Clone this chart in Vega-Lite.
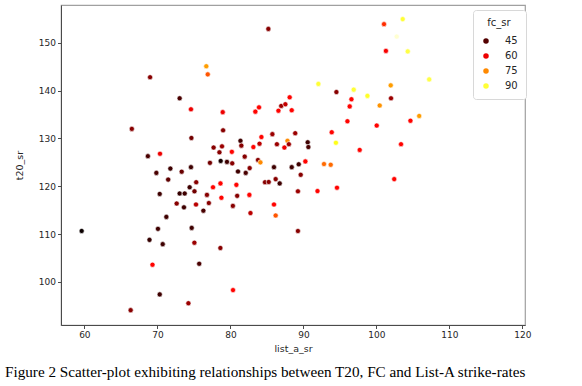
{
  "$schema": "https://vega.github.io/schema/vega-lite/v6.json",
  "width": 464,
  "height": 320,
  "autosize": "none",
  "padding": {"left": 61, "top": 5, "right": 57, "bottom": 61},
  "title": {
    "text": "Figure 2 Scatter-plot exhibiting relationships between T20, FC and List-A strike-rates",
    "orient": "bottom",
    "anchor": "start",
    "frame": "group",
    "font": "Liberation Serif",
    "fontSize": 15.2,
    "fontWeight": "normal",
    "color": "#000000",
    "dx": -56,
    "offset": 12
  },
  "config": {
    "view": {"stroke": "#a0a0a0", "strokeWidth": 1.2},
    "font": "DejaVu Sans",
    "axis": {
      "grid": false,
      "domainColor": "#4a4a4a",
      "tickColor": "#4a4a4a",
      "tickSize": 3.5,
      "labelFont": "DejaVu Sans",
      "labelFontSize": 9,
      "labelColor": "#262626",
      "titleFont": "DejaVu Sans",
      "titleFontSize": 9.5,
      "titleFontWeight": "normal",
      "titleColor": "#262626",
      "labelPadding": 2
    }
  },
  "data": {
    "values": [
      {"list_a_sr": 76.7, "t20_sr": 145.1, "fc_sr": 77},
      {"list_a_sr": 76.9, "t20_sr": 143.4, "fc_sr": 70},
      {"list_a_sr": 69.0, "t20_sr": 142.8, "fc_sr": 50},
      {"list_a_sr": 73.05, "t20_sr": 138.4, "fc_sr": 44},
      {"list_a_sr": 74.6, "t20_sr": 136.1, "fc_sr": 60},
      {"list_a_sr": 78.95, "t20_sr": 135.5, "fc_sr": 60},
      {"list_a_sr": 66.5, "t20_sr": 132.0, "fc_sr": 50},
      {"list_a_sr": 79.0, "t20_sr": 131.7, "fc_sr": 50},
      {"list_a_sr": 74.66, "t20_sr": 130.1, "fc_sr": 48},
      {"list_a_sr": 77.7, "t20_sr": 128.1, "fc_sr": 50},
      {"list_a_sr": 78.85, "t20_sr": 128.35, "fc_sr": 52},
      {"list_a_sr": 78.5, "t20_sr": 127.1, "fc_sr": 50},
      {"list_a_sr": 68.7, "t20_sr": 126.3, "fc_sr": 44},
      {"list_a_sr": 70.36, "t20_sr": 126.8, "fc_sr": 60},
      {"list_a_sr": 77.2, "t20_sr": 124.9, "fc_sr": 48},
      {"list_a_sr": 78.67, "t20_sr": 125.3, "fc_sr": 39},
      {"list_a_sr": 79.53, "t20_sr": 125.1, "fc_sr": 43},
      {"list_a_sr": 69.86, "t20_sr": 122.8, "fc_sr": 44},
      {"list_a_sr": 71.78, "t20_sr": 123.7, "fc_sr": 43},
      {"list_a_sr": 73.33, "t20_sr": 123.05, "fc_sr": 47},
      {"list_a_sr": 74.6, "t20_sr": 124.0, "fc_sr": 43},
      {"list_a_sr": 71.48, "t20_sr": 121.4, "fc_sr": 46},
      {"list_a_sr": 85.2, "t20_sr": 152.9, "fc_sr": 50},
      {"list_a_sr": 101.04, "t20_sr": 153.9, "fc_sr": 66},
      {"list_a_sr": 102.78, "t20_sr": 151.3, "fc_sr": 100},
      {"list_a_sr": 101.3, "t20_sr": 148.3, "fc_sr": 61},
      {"list_a_sr": 92.05, "t20_sr": 141.4, "fc_sr": 90},
      {"list_a_sr": 94.52, "t20_sr": 139.7, "fc_sr": 50},
      {"list_a_sr": 96.89, "t20_sr": 140.2, "fc_sr": 90},
      {"list_a_sr": 98.77, "t20_sr": 138.9, "fc_sr": 89},
      {"list_a_sr": 101.96, "t20_sr": 141.1, "fc_sr": 77},
      {"list_a_sr": 102.0, "t20_sr": 138.4, "fc_sr": 52},
      {"list_a_sr": 96.58, "t20_sr": 138.2, "fc_sr": 62},
      {"list_a_sr": 96.34, "t20_sr": 136.7, "fc_sr": 62},
      {"list_a_sr": 100.45, "t20_sr": 136.9, "fc_sr": 76},
      {"list_a_sr": 96.03, "t20_sr": 133.6, "fc_sr": 62},
      {"list_a_sr": 100.04, "t20_sr": 132.7, "fc_sr": 62},
      {"list_a_sr": 93.88, "t20_sr": 131.3, "fc_sr": 62},
      {"list_a_sr": 94.45, "t20_sr": 129.1, "fc_sr": 88},
      {"list_a_sr": 97.71, "t20_sr": 127.6, "fc_sr": 62},
      {"list_a_sr": 88.12, "t20_sr": 138.6, "fc_sr": 62},
      {"list_a_sr": 86.96, "t20_sr": 136.8, "fc_sr": 52},
      {"list_a_sr": 87.53, "t20_sr": 137.15, "fc_sr": 56},
      {"list_a_sr": 88.4, "t20_sr": 135.9, "fc_sr": 62},
      {"list_a_sr": 86.58, "t20_sr": 135.8, "fc_sr": 62},
      {"list_a_sr": 83.92, "t20_sr": 136.5, "fc_sr": 62},
      {"list_a_sr": 83.42, "t20_sr": 135.6, "fc_sr": 62},
      {"list_a_sr": 88.88, "t20_sr": 131.1, "fc_sr": 52},
      {"list_a_sr": 85.75, "t20_sr": 130.9, "fc_sr": 52},
      {"list_a_sr": 87.82, "t20_sr": 129.5, "fc_sr": 75},
      {"list_a_sr": 90.59, "t20_sr": 129.2, "fc_sr": 43},
      {"list_a_sr": 90.68, "t20_sr": 128.2, "fc_sr": 44},
      {"list_a_sr": 88.01, "t20_sr": 128.8, "fc_sr": 52},
      {"list_a_sr": 87.4, "t20_sr": 128.1, "fc_sr": 60},
      {"list_a_sr": 86.37, "t20_sr": 128.8, "fc_sr": 52},
      {"list_a_sr": 84.25, "t20_sr": 130.3, "fc_sr": 62},
      {"list_a_sr": 83.99, "t20_sr": 128.9, "fc_sr": 55},
      {"list_a_sr": 83.15, "t20_sr": 128.2, "fc_sr": 62},
      {"list_a_sr": 81.38, "t20_sr": 129.5, "fc_sr": 43},
      {"list_a_sr": 81.5, "t20_sr": 128.5, "fc_sr": 50},
      {"list_a_sr": 80.2, "t20_sr": 127.2, "fc_sr": 62},
      {"list_a_sr": 81.96, "t20_sr": 126.2, "fc_sr": 50},
      {"list_a_sr": 83.78, "t20_sr": 125.5, "fc_sr": 50},
      {"list_a_sr": 84.11, "t20_sr": 125.0, "fc_sr": 75},
      {"list_a_sr": 80.25, "t20_sr": 124.8, "fc_sr": 50},
      {"list_a_sr": 81.04, "t20_sr": 123.1, "fc_sr": 43},
      {"list_a_sr": 82.1, "t20_sr": 122.8, "fc_sr": 44},
      {"list_a_sr": 82.64, "t20_sr": 123.8, "fc_sr": 50},
      {"list_a_sr": 85.97, "t20_sr": 124.0, "fc_sr": 43},
      {"list_a_sr": 88.4, "t20_sr": 124.0, "fc_sr": 43},
      {"list_a_sr": 89.36, "t20_sr": 124.6, "fc_sr": 43},
      {"list_a_sr": 89.63, "t20_sr": 122.4, "fc_sr": 50},
      {"list_a_sr": 90.27, "t20_sr": 125.2, "fc_sr": 62},
      {"list_a_sr": 92.82, "t20_sr": 124.65, "fc_sr": 72},
      {"list_a_sr": 93.74, "t20_sr": 124.5, "fc_sr": 72},
      {"list_a_sr": 86.2, "t20_sr": 121.5, "fc_sr": 50},
      {"list_a_sr": 102.44, "t20_sr": 121.5, "fc_sr": 62},
      {"list_a_sr": 103.6, "t20_sr": 154.95, "fc_sr": 90},
      {"list_a_sr": 104.29, "t20_sr": 148.2, "fc_sr": 91},
      {"list_a_sr": 107.23, "t20_sr": 142.35, "fc_sr": 91},
      {"list_a_sr": 105.86, "t20_sr": 134.7, "fc_sr": 77},
      {"list_a_sr": 104.66, "t20_sr": 133.7, "fc_sr": 62},
      {"list_a_sr": 103.37, "t20_sr": 128.8, "fc_sr": 62},
      {"list_a_sr": 94.6, "t20_sr": 119.7, "fc_sr": 62},
      {"list_a_sr": 91.93, "t20_sr": 119.0, "fc_sr": 62},
      {"list_a_sr": 75.32, "t20_sr": 120.85, "fc_sr": 50},
      {"list_a_sr": 77.62, "t20_sr": 119.8, "fc_sr": 62},
      {"list_a_sr": 78.64, "t20_sr": 120.6, "fc_sr": 62},
      {"list_a_sr": 74.42, "t20_sr": 119.8, "fc_sr": 43},
      {"list_a_sr": 70.32, "t20_sr": 118.4, "fc_sr": 43},
      {"list_a_sr": 73.05, "t20_sr": 118.5, "fc_sr": 42},
      {"list_a_sr": 73.74, "t20_sr": 118.5, "fc_sr": 43},
      {"list_a_sr": 75.08, "t20_sr": 118.95, "fc_sr": 48},
      {"list_a_sr": 76.79, "t20_sr": 118.2, "fc_sr": 50},
      {"list_a_sr": 78.77, "t20_sr": 117.6, "fc_sr": 62},
      {"list_a_sr": 72.64, "t20_sr": 116.4, "fc_sr": 50},
      {"list_a_sr": 73.64, "t20_sr": 115.6, "fc_sr": 43},
      {"list_a_sr": 75.29, "t20_sr": 116.2, "fc_sr": 55},
      {"list_a_sr": 77.05, "t20_sr": 116.5, "fc_sr": 50},
      {"list_a_sr": 76.3, "t20_sr": 114.9, "fc_sr": 44},
      {"list_a_sr": 71.23, "t20_sr": 113.6, "fc_sr": 43},
      {"list_a_sr": 59.63, "t20_sr": 110.66, "fc_sr": 38},
      {"list_a_sr": 70.08, "t20_sr": 111.1, "fc_sr": 43},
      {"list_a_sr": 74.7, "t20_sr": 111.3, "fc_sr": 43},
      {"list_a_sr": 68.92, "t20_sr": 108.8, "fc_sr": 42},
      {"list_a_sr": 70.73, "t20_sr": 107.9, "fc_sr": 43},
      {"list_a_sr": 75.07, "t20_sr": 108.2, "fc_sr": 52},
      {"list_a_sr": 78.63, "t20_sr": 107.1, "fc_sr": 50},
      {"list_a_sr": 69.33, "t20_sr": 103.6, "fc_sr": 62},
      {"list_a_sr": 75.73, "t20_sr": 103.8, "fc_sr": 44},
      {"list_a_sr": 70.32, "t20_sr": 97.4, "fc_sr": 43},
      {"list_a_sr": 74.25, "t20_sr": 95.55, "fc_sr": 52},
      {"list_a_sr": 66.34, "t20_sr": 94.1, "fc_sr": 50},
      {"list_a_sr": 80.82, "t20_sr": 120.3, "fc_sr": 62},
      {"list_a_sr": 80.93, "t20_sr": 118.0, "fc_sr": 50},
      {"list_a_sr": 80.34, "t20_sr": 115.9, "fc_sr": 50},
      {"list_a_sr": 82.6, "t20_sr": 118.2, "fc_sr": 62},
      {"list_a_sr": 82.75, "t20_sr": 114.4, "fc_sr": 55},
      {"list_a_sr": 84.74, "t20_sr": 120.85, "fc_sr": 50},
      {"list_a_sr": 85.25, "t20_sr": 120.9, "fc_sr": 50},
      {"list_a_sr": 86.75, "t20_sr": 120.6, "fc_sr": 43},
      {"list_a_sr": 85.97, "t20_sr": 116.2, "fc_sr": 62},
      {"list_a_sr": 86.2, "t20_sr": 113.9, "fc_sr": 70},
      {"list_a_sr": 89.25, "t20_sr": 118.95, "fc_sr": 52},
      {"list_a_sr": 89.25, "t20_sr": 110.65, "fc_sr": 50},
      {"list_a_sr": 80.36, "t20_sr": 98.3, "fc_sr": 62}
    ]
  },
  "mark": {"type": "point", "filled": true, "opacity": 1, "size": 26, "stroke": "#ffffff", "strokeWidth": 0.6},
  "encoding": {
    "x": {
      "field": "list_a_sr",
      "type": "quantitative",
      "scale": {"domain": [56.8, 120.35], "nice": false, "zero": false},
      "axis": {"values": [60, 70, 80, 90, 100, 110, 120], "title": "list_a_sr", "titlePadding": 4}
    },
    "y": {
      "field": "t20_sr",
      "type": "quantitative",
      "scale": {"domain": [91.0, 157.9], "nice": false, "zero": false},
      "axis": {"values": [100, 110, 120, 130, 140, 150], "title": "t20_sr", "titlePadding": 14}
    },
    "color": {
      "field": "fc_sr",
      "type": "quantitative",
      "scale": {
        "domain": [38, 61.7, 86.5, 103],
        "range": ["#0b0000", "#ff0000", "#ffff00", "#ffffff"],
        "interpolate": "rgb"
      },
      "legend": {
        "type": "symbol",
        "values": [45, 60, 75, 90],
        "title": "fc_sr",
        "orient": "none",
        "legendX": 412,
        "legendY": 5,
        "direction": "vertical",
        "titleAnchor": "middle",
        "titleFont": "DejaVu Sans",
        "titleFontSize": 10,
        "titleFontWeight": "normal",
        "titleColor": "#262626",
        "titlePadding": 8,
        "labelFont": "DejaVu Sans",
        "labelFontSize": 10,
        "labelColor": "#262626",
        "labelOffset": 14,
        "symbolType": "circle",
        "symbolSize": 30,
        "symbolStrokeWidth": 0,
        "rowPadding": 5,
        "padding": 8,
        "strokeColor": "#d8d8d8",
        "fillColor": "#ffffff",
        "cornerRadius": 3
      }
    }
  }
}
